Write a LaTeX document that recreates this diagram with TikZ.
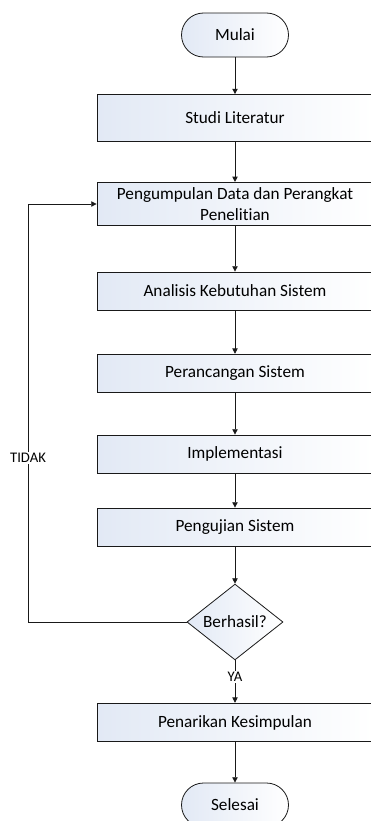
\documentclass[tikz,border=0pt]{standalone}
\usepackage{fontspec}
\setmainfont{Carlito}[Ligatures={NoCommon}]
\usetikzlibrary{arrows.meta,shapes.geometric}
\definecolor{fillL}{RGB}{226,233,245}
\begin{document}
\begin{tikzpicture}[x=0.75pt,y=-0.75pt,
  every node/.style={font=\fontsize{12.9}{15.5}\selectfont},
  base/.style={draw=black!90, line width=0.6pt, left color=fillL, right color=white, inner sep=0pt, align=center},
  proc/.style={base, minimum width=207pt},
  term/.style={base, rounded corners=16.5pt, minimum width=80.25pt, minimum height=33pt},
  decis/.style={base, shape=diamond, minimum width=72pt, minimum height=43.5pt},
  lbl/.style={fill=white, inner sep=1pt, font=\fontsize{11}{13}\selectfont},
  arr/.style={draw=black!90, line width=0.6pt, -{Triangle[length=4pt,width=4pt]}},
  ln/.style={draw=black!90, line width=0.6pt}]
\useasboundingbox (0,0) rectangle (371,821);
\node[term] (mulai) at (235,35) {Mulai};
\node[proc, minimum height=35.25pt] (studi) at (235,118) {Studi Literatur};
\node[proc, minimum height=32.5pt] (data) at (235,204) {Pengumpulan Data dan Perangkat\\Penelitian};
\node[proc, minimum height=28.5pt] (analisis) at (235,291) {Analisis Kebutuhan Sistem};
\node[proc, minimum height=29pt] (rancang) at (235,373.5) {Perancangan Sistem};
\node[proc, minimum height=28.5pt] (impl) at (235,454) {Implementasi};
\node[proc, minimum height=28.5pt] (uji) at (235,527) {Pengujian Sistem};
\node[decis] (cek) at (235,622) {Berhasil?};
\node[proc, minimum height=29pt] (simpul) at (235,722.5) {Penarikan Kesimpulan};
\node[term] (selesai) at (235,805) {Selesai};
\coordinate (lp) at (28,204);
\draw[arr] (mulai) -- (studi);
\draw[arr] (studi) -- (data);
\draw[arr] (data) -- (analisis);
\draw[arr] (analisis) -- (rancang);
\draw[arr] (rancang) -- (impl);
\draw[arr] (impl) -- (uji);
\draw[arr] (uji) -- (cek);
\draw[arr] (cek) -- (simpul);
\draw[arr] (simpul) -- (selesai);
\draw[arr] (cek.west) -- (cek.west -| lp) -- (lp) -- (data.west);
\node[lbl] (tidak) at (28,458) {TIDAK};
\node[lbl] (ya) at (235,677) {YA};
\end{tikzpicture}
\end{document}
